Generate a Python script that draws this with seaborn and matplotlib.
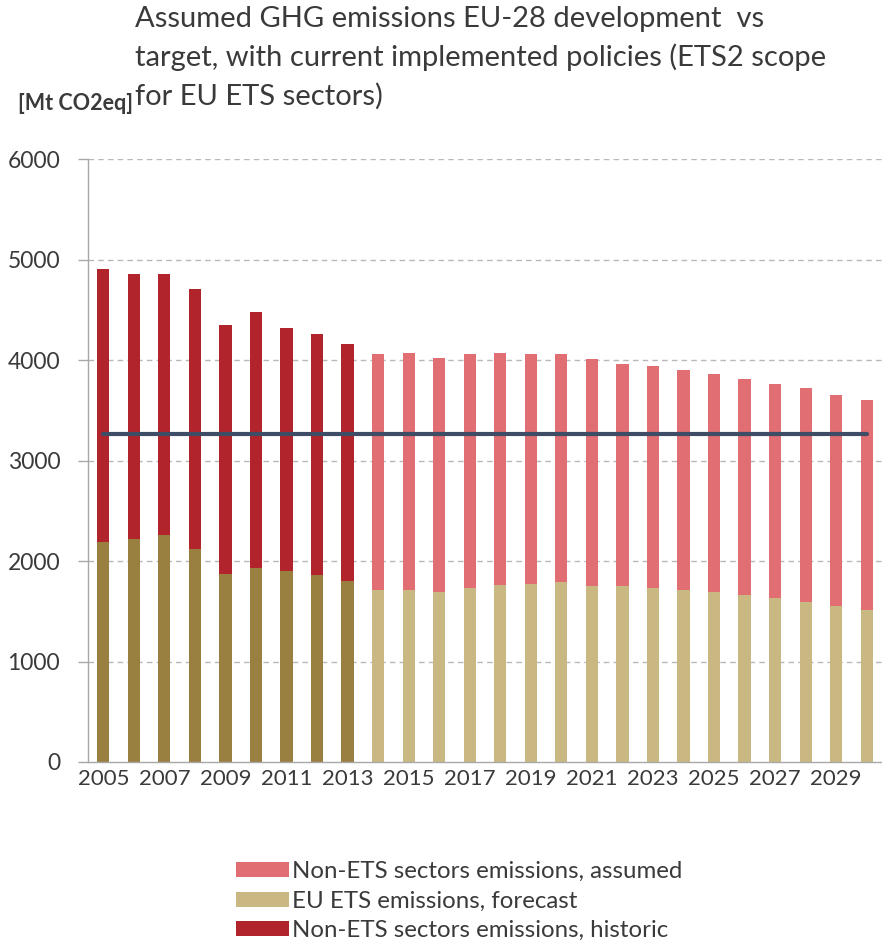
import numpy as np
import pandas as pd
import matplotlib
matplotlib.use("Agg")
import matplotlib.pyplot as plt
import seaborn as sns
from matplotlib.patches import Patch

# ---------------- data ----------------
years = list(range(2005, 2031))
total = [4910, 4860, 4860, 4705, 4350, 4480, 4320, 4260, 4160,
         4060, 4070, 4020, 4060, 4070, 4060, 4060, 4005, 3965, 3945,
         3905, 3865, 3815, 3765, 3720, 3650, 3600]
ets = [2190, 2220, 2260, 2115, 1875, 1935, 1900, 1860, 1800,
       1710, 1710, 1690, 1735, 1760, 1770, 1790, 1750, 1750, 1735,
       1710, 1690, 1660, 1630, 1590, 1550, 1510]
last_historic = 2013
target_value = 3260
target = [target_value] * len(years)

tick_labels = [str(y) if (y - 2005) % 2 == 0 else "" for y in years]

lab_nonets_hist = "Non-ETS sectors emissions, historic"
lab_nonets_ass = "Non-ETS sectors emissions, assumed"
lab_ets_hist = "EU ETS emissions, historic"
lab_ets_fc = "EU ETS emissions, forecast"

colors = {
    lab_nonets_hist: "#B2242C",
    lab_nonets_ass: "#E06E72",
    lab_ets_hist: "#9A8040",
    lab_ets_fc: "#CAB882",
}

df = pd.DataFrame({"year": [str(y) for y in years], "total": total, "ets": ets})
hist = np.array(years) <= last_historic
df["top_seg"] = np.where(hist, lab_nonets_hist, lab_nonets_ass)
df["ets_seg"] = np.where(hist, lab_ets_hist, lab_ets_fc)

# ---------------- figure ----------------
sns.set_theme(style="white")
plt.rcParams["font.family"] = ["Lato", "DejaVu Sans"]
text_col = "#3A3A3A"

fig = plt.figure(figsize=(8.82, 9.42), dpi=100)
ax = fig.add_axes([88 / 882, 1 - 762 / 942, 1 - 88 / 882, (762 - 159) / 942])

sns.barplot(data=df, x="year", y="total", hue="top_seg", palette=colors,
            dodge=False, width=0.4, ax=ax, legend=False, saturation=1,
            edgecolor="none", linewidth=0)
sns.barplot(data=df, x="year", y="ets", hue="ets_seg", palette=colors,
            dodge=False, width=0.4, ax=ax, legend=False, saturation=1,
            edgecolor="none", linewidth=0)
sns.lineplot(x=np.arange(len(years)), y=target, color="#3E4C66", linewidth=3,
             ax=ax, legend=False)

ax.set_ylim(0, 6000)
ax.set_xlim(-0.5, len(years) - 0.5)
ax.set_yticks(np.arange(0, 6001, 1000))
ax.set_yticklabels([str(v) for v in range(0, 6001, 1000)], fontsize=16.5, color=text_col)
ax.set_xticks(np.arange(len(years)))
ax.set_xticklabels(tick_labels, fontsize=16, color=text_col)
ax.set_xticks(np.arange(-0.5, len(years), 1), minor=True)
ax.tick_params(axis="x", which="major", length=0, pad=5)
ax.tick_params(axis="x", which="minor", length=7, width=1, color="#A8A8A8", direction="out")
ax.tick_params(axis="y", length=7, width=1, color="#A8A8A8", direction="out", pad=13, left=True)
ax.set_xlabel("")
ax.set_ylabel("")

for v in range(1000, 6001, 1000):
    ax.axhline(v, color="#B8B8B8", linestyle=(0, (4, 3)), linewidth=1, zorder=0)
ax.set_axisbelow(True)

for s in ["top", "right"]:
    ax.spines[s].set_visible(False)
for s in ["left", "bottom"]:
    ax.spines[s].set_color("#A8A8A8")
    ax.spines[s].set_linewidth(1)

# ---------------- texts ----------------
title_lines = ["Assumed GHG emissions EU-28 development  vs",
               "target, with current implemented policies (ETS2 scope",
               "for EU ETS sectors)"]
for i, line in enumerate(title_lines):
    fig.text(135 / 882, 1 - (19 + 38.5 * i) / 942, line, fontsize=21,
             color=text_col, ha="left", va="center")

fig.text(18 / 882, 1 - 104 / 942, "[Mt CO2eq]", fontsize=15.5, fontweight="bold",
         color=text_col, ha="left", va="center")

handles = [Patch(facecolor=colors[k], edgecolor="none")
           for k in [lab_nonets_ass, lab_ets_fc, lab_nonets_hist]]
labels = [lab_nonets_ass, lab_ets_fc, lab_nonets_hist]
fig.legend(handles, labels, loc="upper left",
           bbox_to_anchor=(236 / 882, 1 - 861 / 942), frameon=False,
           fontsize=17.3, handlelength=2.2, handleheight=0.6, handletextpad=0.15,
           labelspacing=0.36, borderpad=0, borderaxespad=0, labelcolor=text_col)

fig.savefig("out.png", dpi=100)
